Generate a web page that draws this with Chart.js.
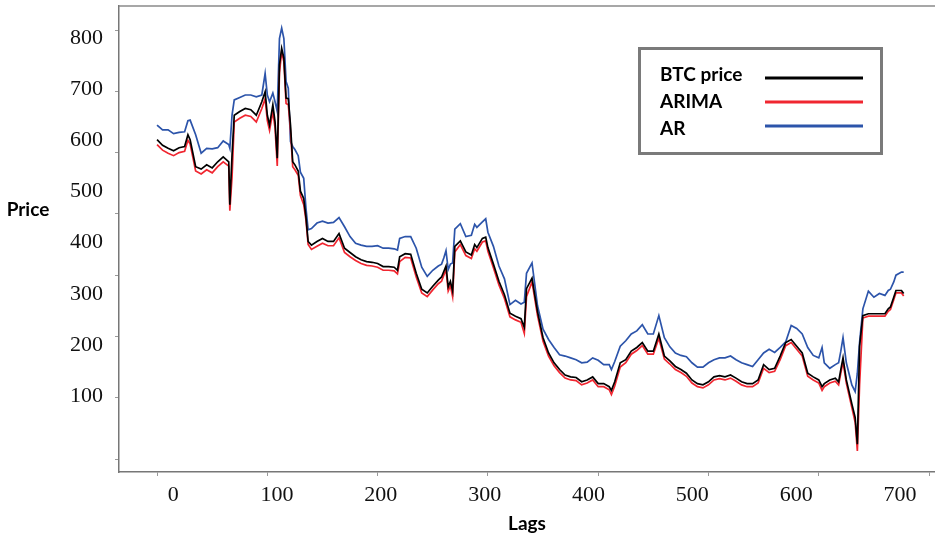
<!DOCTYPE html>
<html>
<head>
<meta charset="utf-8">
<script src="https://cdn.jsdelivr.net/npm/chart.js@4.4.1/dist/chart.umd.min.js"></script>
<style>
  html, body { margin: 0; padding: 0; background: #fff; }
  canvas { display: block; }
</style>
</head>
<body>
<canvas id="price_chart" width="935" height="538"></canvas>
<script>
// lag index of each sample
var lags = [
    0, 5, 10, 15, 20, 25, 28, 30, 35, 40,
    45, 50, 55, 60, 65, 66, 68, 70, 75, 80,
    85, 90, 95, 98, 100, 102, 105, 107, 109, 111,
    113, 115, 117, 119, 121, 123, 125, 128, 130, 133,
    135, 137, 140, 145, 150, 155, 160, 165, 170, 175,
    180, 185, 190, 195, 200, 205, 210, 215, 218, 220,
    225, 230, 235, 240, 245, 250, 255, 258, 260, 262,
    264, 266, 268, 270, 275, 280, 285, 288, 290, 295,
    298, 300, 305, 310, 315, 320, 325, 330, 333, 335,
    340, 345, 350, 355, 360, 365, 370, 375, 380, 385,
    390, 395, 400, 405, 410, 412, 415, 420, 425, 430,
    435, 440, 445, 450, 455, 460, 465, 470, 475, 480,
    485, 490, 495, 500, 505, 510, 515, 520, 525, 530,
    535, 540, 545, 550, 555, 560, 565, 570, 575, 580,
    585, 590, 595, 600, 603, 605, 610, 615, 618, 620,
    622, 625, 630, 633, 635, 637, 640, 645, 650, 655,
    660, 663, 665, 668, 670, 675, 677
];

var btcPrice = [
    621, 612, 607, 603, 608, 610, 629, 621, 577, 573,
    580, 575, 585, 593, 585, 515, 596, 661, 667, 672,
    670, 661, 683, 699, 661, 645, 678, 650, 591, 743,
    770, 754, 689, 688, 645, 585, 580, 570, 537, 525,
    495, 455, 449, 455, 460, 455, 455, 468, 444, 437,
    430, 425, 422, 421, 419, 414, 414, 413, 408, 430,
    435, 434, 403, 377, 371, 382, 392, 397, 406, 415,
    381, 390, 374, 447, 456, 438, 433, 450, 445, 460,
    462, 445, 418, 390, 368, 338, 333, 329, 315, 378,
    395, 340, 298, 273, 257, 246, 237, 234, 233, 226,
    229, 234, 223, 223, 218, 212, 226, 257, 262, 276,
    282, 290, 276, 276, 304, 268, 260, 251, 246, 240,
    229, 223, 221, 226, 234, 236, 234, 237, 232, 226,
    223, 223, 229, 254, 246, 248, 268, 290, 295, 284,
    273, 240, 234, 229, 218, 223, 229, 232, 226, 246,
    265, 229, 190, 168, 124, 284, 334, 337, 337, 337,
    337, 345, 348, 364, 375, 375, 370
];

var arimaPred = [
    613, 604, 599, 595, 600, 602, 620, 614, 570, 565,
    572, 567, 577, 585, 578, 505, 560, 650, 656, 661,
    659, 650, 672, 688, 652, 636, 667, 640, 578, 730,
    765, 748, 680, 678, 636, 577, 572, 563, 530, 515,
    490, 450, 442, 447, 452, 448, 448, 461, 437, 430,
    424, 419, 416, 415, 413, 408, 408, 407, 402, 422,
    429, 428, 397, 371, 365, 376, 386, 390, 400, 409,
    374, 383, 365, 438, 450, 432, 427, 443, 439, 454,
    456, 439, 412, 384, 362, 332, 327, 323, 305, 365,
    389, 334, 292, 268, 252, 241, 232, 229, 228, 221,
    224, 229, 218, 218, 213, 205, 219, 250, 257, 271,
    277, 285, 271, 271, 297, 263, 255, 246, 241, 235,
    224, 218, 216, 221, 229, 231, 229, 232, 227, 221,
    218, 218, 224, 248, 241, 243, 262, 285, 290, 279,
    268, 235, 229, 224, 212, 218, 224, 227, 221, 240,
    258, 224, 184, 160, 113, 220, 330, 333, 333, 333,
    333, 341, 344, 360, 371, 371, 366
];

var arPred = [
    645, 637, 637, 631, 633, 634, 652, 653, 629, 599,
    607, 606, 608, 619, 613, 607, 661, 686, 690, 694,
    694, 691, 694, 729, 694, 683, 697, 683, 667, 786,
    803, 786, 716, 705, 618, 610, 605, 595, 568, 558,
    510, 474, 476, 485, 488, 485, 486, 494, 479, 463,
    452, 449, 447, 447, 448, 444, 444, 443, 441, 460,
    463, 463, 444, 413, 398, 408, 415, 418, 428, 440,
    409, 418, 420, 475, 484, 463, 465, 483, 478, 487,
    492, 470, 447, 415, 394, 352, 359, 353, 356, 403,
    420, 350, 312, 295, 282, 270, 268, 265, 262, 257,
    258, 265, 261, 254, 254, 246, 259, 284, 293, 304,
    309, 319, 304, 304, 334, 298, 283, 273, 269, 267,
    257, 250, 250, 257, 262, 265, 265, 268, 262, 257,
    254, 251, 262, 273, 279, 274, 282, 291, 318, 313,
    304, 282, 269, 265, 282, 257, 248, 254, 257, 276,
    298, 257, 221, 210, 240, 290, 345, 374, 364, 370,
    367, 375, 377, 389, 400, 405, 405
];

var xTicks = [0, 100, 200, 300, 400, 500, 600, 700];
var yTicks = [100, 200, 300, 400, 500, 600, 700, 800];

var serif = 'Liberation Serif';
var sans = 'Lato';

function points(values) {
    return lags.map(function(x, i) { return { x: x, y: values[i] }; });
}

function fixedTicks(values) {
    return function(scale) {
        scale.ticks = values.map(function(v) { return { value: v }; });
    };
}

function noPad(scale) {
    scale.paddingLeft = 0;
    scale.paddingRight = 0;
    scale.paddingTop = 0;
    scale.paddingBottom = 0;
}

// frame top line, horizontal y title and the boxed legend
var decorations = {
    id: 'decorations',
    afterDraw: function(chart) {
        var ctx = chart.ctx;
        var ca = chart.chartArea;
        ctx.save();

        ctx.strokeStyle = '#8a8a8a';
        ctx.lineWidth = 1.5;
        ctx.beginPath();
        ctx.moveTo(ca.left, ca.top);
        ctx.lineTo(ca.right, ca.top);
        ctx.stroke();

        ctx.fillStyle = '#000';
        ctx.font = 'bold 19px ' + sans;
        ctx.textAlign = 'center';
        ctx.textBaseline = 'middle';
        ctx.fillText('Price', 28, 210);

        var left = ca.right - 297, top = ca.top + 41, w = 245, h = 108;
        ctx.strokeStyle = '#7a7a7a';
        ctx.lineWidth = 3;
        ctx.strokeRect(left + 1.5, top + 1.5, w - 3, h - 3);

        ctx.textAlign = 'left';
        chart.data.datasets.forEach(function(ds, i) {
            ctx.fillStyle = '#000';
            ctx.fillText(ds.label, left + 22, top + 28 + 27 * i);
            ctx.strokeStyle = ds.borderColor;
            ctx.lineWidth = 3;
            ctx.beginPath();
            ctx.moveTo(left + 127, top + 31 + 24 * i);
            ctx.lineTo(left + 225, top + 31 + 24 * i);
            ctx.stroke();
        });
        ctx.restore();
    }
};

var tickGrid = { drawOnChartArea: false, drawTicks: true, tickLength: 4, tickColor: '#9a9a9a', tickWidth: 1 };
var axisBorder = { display: true, color: '#777', width: 1.5 };

var config = {
    type: 'line',
    data: {
        datasets: [{
            label: 'BTC price',
            data: points(btcPrice),
            borderColor: 'rgb(0, 0, 0)',
            borderWidth: 1.7
        }, {
            label: 'ARIMA',
            data: points(arimaPred),
            borderColor: 'rgb(240, 38, 48)',
            borderWidth: 1.7
        }, {
            label: 'AR',
            data: points(arPred),
            borderColor: 'rgb(44, 84, 170)',
            borderWidth: 1.7
        }]
    },
    options: {
        responsive: false,
        animation: false,
        layout: { padding: { top: 6, right: 0, bottom: 0, left: 0 } },
        elements: { point: { radius: 0 }, line: { tension: 0 } },
        plugins: { legend: { display: false }, tooltip: { enabled: false } },
        scales: {
            x: {
                type: 'linear', position: 'bottom', min: -34.5, max: 705.4,
                afterBuildTicks: fixedTicks(xTicks),
                afterFit: function(s) { s.height = 4; noPad(s); },
                grid: tickGrid, border: axisBorder,
                ticks: { display: false }
            },
            y: {
                type: 'linear', position: 'left', min: 78.8, max: 839.2,
                afterBuildTicks: fixedTicks(yTicks),
                afterFit: function(s) { s.width = 5; noPad(s); },
                grid: tickGrid, border: axisBorder,
                ticks: { display: false }
            },
            xLabels: {
                type: 'linear', position: 'bottom', min: -52.2, max: 733.7,
                afterBuildTicks: fixedTicks(xTicks),
                afterFit: function(s) { s.height = 62; noPad(s); },
                grid: { display: false, drawTicks: false },
                border: { display: false },
                ticks: { padding: 6, maxRotation: 0, autoSkip: false, color: '#111', font: { family: serif, size: 22 } },
                title: { display: true, text: 'Lags', color: '#000', font: { family: sans, size: 19, weight: 'bold' }, padding: { top: 0, bottom: 3 } }
            },
            yLabels: {
                type: 'linear', position: 'left', min: -48.2, max: 862.5,
                afterBuildTicks: fixedTicks(yTicks),
                afterFit: function(s) { s.width = 114; noPad(s); },
                grid: { display: false, drawTicks: false },
                border: { display: false },
                ticks: { padding: 11, autoSkip: false, color: '#111', font: { family: serif, size: 22 } }
            }
        }
    },
    plugins: [decorations]
};

window.chart = new Chart(document.getElementById('price_chart').getContext('2d'), config);
</script>
</body>
</html>
